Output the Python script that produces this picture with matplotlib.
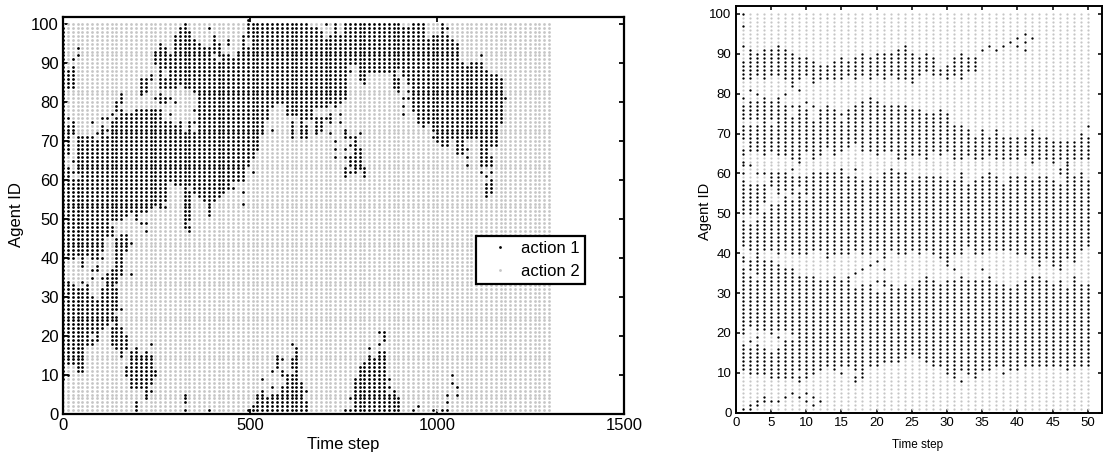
import matplotlib

matplotlib.use("Agg")

import matplotlib.pyplot as plt
import numpy as np

# spans of agent IDs choosing action 1, one list per sampled time step
LEFT_TIMES = [13 * k for k in range(101)]
LEFT_SPANS = [
    [(9, 99)],
    [(84, 88), (76, 76), (67, 74), (40, 63), (13, 34), (10, 10)],
    [(91, 91), (84, 89), (72, 75), (65, 65), (62, 62), (40, 60), (13, 33)],
    [(94, 94), (92, 92), (62, 71), (41, 60), (11, 32)],
    [(38, 71), (34, 34), (11, 32)],
    [(41, 71), (18, 33)],
    [(75, 75), (40, 71), (37, 37), (35, 35), (21, 30), (18, 19)],
    [(72, 72), (40, 70), (37, 38), (20, 29), (19, 19)],
    [(76, 76), (42, 74), (40, 40), (35, 35), (22, 32)],
    [(76, 76), (73, 73), (46, 71), (23, 36)],
    [(77, 77), (74, 75), (50, 73), (46, 48), (24, 37), (18, 22)],
    [(78, 80), (50, 76), (34, 45), (27, 32), (17, 25)],
    [(80, 82), (50, 78), (36, 46), (27, 27), (15, 22)],
    [(51, 77), (42, 46), (17, 20), (10, 12)],
    [(52, 77), (44, 44), (36, 36), (7, 16)],
    [(50, 78), (7, 17), (1, 3)],
    [(82, 86), (52, 78), (49, 49), (7, 15)],
    [(83, 86), (52, 78), (49, 49), (47, 47), (4, 16)],
    [(86, 87), (53, 78), (18, 18), (8, 15), (6, 6)],
    [(90, 93), (81, 81), (54, 78), (10, 11)],
    [(84, 95), (80, 82), (53, 78)],
    [(89, 94), (84, 86), (80, 81), (55, 75), (53, 53)],
    [(84, 92), (81, 81), (77, 77), (60, 75)],
    [(84, 97), (80, 80), (59, 74)],
    [(85, 99), (59, 75)],
    [(84, 100), (59, 72), (48, 58), (3, 5), (1, 1)],
    [(84, 98), (59, 75), (50, 57), (48, 48), (47, 47)],
    [(83, 96), (78, 78), (75, 75), (57, 72)],
    [(56, 95)],
    [(55, 94)],
    [(99, 99), (51, 94), (1, 1)],
    [(93, 97), (55, 91)],
    [(92, 95), (56, 90)],
    [(91, 92), (57, 90)],
    [(95, 96), (58, 92)],
    [(60, 91), (58, 58)],
    [(60, 93)],
    [(60, 97), (57, 57), (54, 54)],
    [(97, 101), (64, 94), (1, 1)],
    [(66, 100), (62, 62), (1, 2)],
    [(68, 100), (1, 5)],
    [(72, 100), (9, 9), (1, 6)],
    [(76, 100), (1, 4)],
    [(79, 100), (73, 73), (11, 11), (7, 7), (1, 5)],
    [(80, 100), (12, 15), (1, 5)],
    [(80, 100), (14, 14), (10, 11), (7, 7), (1, 6)],
    [(77, 100), (1, 10)],
    [(77, 100), (71, 75), (18, 18), (12, 14), (1, 10)],
    [(77, 100), (11, 17), (1, 10)],
    [(76, 100), (71, 75), (1, 8)],
    [(76, 100), (71, 74), (6, 6), (1, 3)],
    [(76, 99)],
    [(79, 99), (72, 76)],
    [(79, 98), (73, 76)],
    [(100, 100), (79, 96), (76, 76)],
    [(80, 97), (75, 77), (72, 72)],
    [(79, 100), (70, 70), (68, 68), (66, 66)],
    [(80, 97), (77, 77), (75, 75)],
    [(81, 100), (71, 73), (68, 68), (66, 66), (61, 63), (1, 1)],
    [(90, 100), (88, 88), (71, 71), (69, 69), (64, 66), (62, 62), (4, 4), (1, 1)],
    [(90, 100), (62, 71), (1, 9)],
    [(86, 100), (72, 72), (64, 68), (63, 63), (1, 12)],
    [(85, 100), (61, 63), (1, 13)],
    [(88, 100), (17, 17), (1, 15)],
    [(88, 100), (1, 14)],
    [(88, 100), (21, 21), (18, 18), (1, 16)],
    [(88, 100), (19, 21), (1, 16)],
    [(88, 100), (9, 9), (7, 7), (1, 5)],
    [(84, 100), (1, 6)],
    [(89, 100), (83, 86), (1, 4)],
    [(87, 99), (81, 81), (79, 79), (77, 77)],
    [(85, 99), (83, 83), (81, 81)],
    [(78, 100), (1, 1)],
    [(75, 100), (2, 2)],
    [(74, 100)],
    [(75, 96)],
    [(73, 97), (71, 71), (1, 1)],
    [(70, 97)],
    [(69, 100), (1, 1)],
    [(99, 99), (69, 97), (5, 5), (3, 3), (1, 1)],
    [(71, 96), (10, 10), (8, 8)],
    [(67, 95), (7, 7), (5, 5)],
    [(67, 90)],
    [(71, 89), (68, 68), (66, 66), (64, 64)],
    [(71, 90)],
    [(71, 90)],
    [(92, 92), (64, 90), (62, 62)],
    [(64, 88), (61, 61), (56, 59)],
    [(69, 87), (64, 66), (62, 62), (57, 60)],
    [(69, 87)],
    [(75, 86)],
    [(81, 81)],
    [], [], [], [], [], [], [], [], [],
]

RIGHT_TIMES = list(range(1, 51))
RIGHT_SPANS = [
    [(100, 100), (97, 97), (92, 92), (84, 88), (79, 79), (74, 77), (69, 72), (65, 66), (62, 63), (60, 60), (50, 58), (42, 48), (38, 39), (20, 36), (11, 17), (1, 1)],
    [(84, 91), (81, 81), (74, 78), (66, 72), (62, 62), (50, 57), (41, 47), (36, 38), (22, 34), (18, 18), (10, 16), (1, 2)],
    [(85, 90), (80, 80), (74, 78), (66, 72), (60, 60), (50, 57), (40, 48), (35, 39), (21, 33), (19, 19), (10, 17), (2, 3)],
    [(84, 91), (74, 79), (65, 73), (60, 60), (53, 57), (41, 50), (21, 38), (10, 16), (3, 4)],
    [(85, 91), (74, 78), (66, 72), (57, 60), (41, 52), (20, 38), (9, 15), (3, 3)],
    [(85, 92), (79, 79), (65, 78), (55, 60), (40, 52), (21, 37), (19, 19), (9, 16), (3, 3)],
    [(84, 91), (80, 80), (65, 77), (56, 60), (41, 54), (21, 36), (9, 18), (4, 4)],
    [(82, 90), (77, 77), (64, 74), (61, 61), (55, 59), (40, 53), (20, 36), (9, 18), (5, 5)],
    [(84, 89), (81, 81), (64, 77), (63, 63), (57, 59), (40, 55), (11, 34), (8, 9), (4, 4)],
    [(85, 89), (78, 78), (66, 76), (55, 59), (40, 53), (10, 34), (9, 9), (5, 5), (3, 3)],
    [(83, 88), (77, 77), (64, 73), (41, 60), (10, 34), (4, 4), (2, 2)],
    [(84, 87), (74, 76), (65, 73), (41, 60), (11, 33), (3, 3)],
    [(84, 87), (67, 77), (39, 60), (12, 33)],
    [(84, 88), (65, 76), (40, 60), (11, 34)],
    [(84, 89), (75, 75), (66, 73), (61, 61), (40, 60), (12, 33), (10, 10)],
    [(85, 88), (67, 76), (40, 59), (12, 34)],
    [(84, 89), (68, 77), (61, 61), (41, 59), (35, 35), (11, 31), (8, 9)],
    [(85, 90), (66, 78), (40, 58), (36, 36), (12, 32), (9, 11)],
    [(84, 89), (66, 79), (40, 59), (37, 37), (12, 32)],
    [(85, 90), (65, 78), (41, 58), (38, 38), (33, 33), (12, 30)],
    [(84, 90), (66, 77), (39, 60), (36, 36), (32, 33), (13, 30)],
    [(85, 90), (66, 77), (41, 61), (13, 32)],
    [(84, 91), (64, 77), (40, 60), (13, 31)],
    [(84, 92), (64, 77), (40, 60), (14, 32)],
    [(83, 90), (65, 76), (41, 58), (15, 31)],
    [(85, 89), (65, 76), (40, 59), (14, 33)],
    [(86, 90), (64, 75), (41, 59), (13, 34)],
    [(85, 89), (66, 75), (40, 59), (12, 33)],
    [(85, 86), (65, 76), (39, 59), (12, 32)],
    [(84, 87), (66, 75), (37, 58), (10, 33)],
    [(85, 89), (64, 72), (40, 58), (36, 36), (9, 33)],
    [(84, 90), (64, 72), (40, 60), (11, 34), (8, 8)],
    [(86, 89), (65, 71), (42, 57), (10, 33)],
    [(86, 89), (64, 69), (40, 58), (9, 33)],
    [(91, 91), (64, 71), (40, 59), (36, 36), (11, 33)],
    [(92, 92), (65, 69), (41, 60), (11, 34)],
    [(91, 91), (64, 71), (41, 59), (12, 32)],
    [(92, 92), (64, 69), (41, 57), (12, 32), (10, 10)],
    [(93, 93), (64, 69), (41, 59), (11, 31)],
    [(94, 94), (92, 92), (64, 69), (40, 59), (11, 32)],
    [(95, 95), (93, 93), (91, 91), (65, 69), (40, 59), (12, 33)],
    [(94, 94), (63, 71), (39, 58), (12, 34)],
    [(64, 69), (37, 59), (12, 34)],
    [(64, 69), (39, 59), (12, 33)],
    [(63, 68), (37, 58), (12, 32)],
    [(64, 68), (60, 61), (36, 57), (12, 33)],
    [(61, 68), (39, 60), (11, 31)],
    [(64, 68), (38, 59), (12, 34)],
    [(64, 70), (41, 60), (12, 32)],
    [(72, 72), (64, 69), (42, 58), (12, 32)],
]

LEFT_XTICKS = [0, 500, 1000, 1500]
RIGHT_XTICKS = list(range(0, 51, 5))
YTICKS = list(range(0, 101, 10))

BLACK = "#000000"
GRAY = "#c6c6c6"
W, H = 1105, 457


def split_actions(times, spans):
    x1, y1, x2, y2 = [], [], [], []
    for t, col in zip(times, spans):
        chosen = set()
        for lo, hi in col:
            chosen.update(range(lo, hi + 1))
        for agent in chosen:
            x1.append(t)
            y1.append(agent)
        for agent in range(1, 101):
            if agent not in chosen:
                x2.append(t)
                y2.append(agent)
    return np.array(x1), np.array(y1), np.array(x2), np.array(y2)


def place_axes(fig, left, top, right, bottom):
    return fig.add_axes([left / W, 1 - bottom / H, (right - left) / W, (bottom - top) / H])


def style_axes(ax, lw, ticklen):
    for spine in ax.spines.values():
        spine.set_linewidth(lw)
    ax.tick_params(direction="in", top=True, right=True, length=ticklen, width=lw * 0.8)


plt.rcParams["font.family"] = ["Liberation Sans", "DejaVu Sans"]
fig = plt.figure(figsize=(W / 100, H / 100), dpi=100)

ax = place_axes(fig, 63, 16.5, 624, 414)
x1, y1, x2, y2 = split_actions(LEFT_TIMES, LEFT_SPANS)
ax.plot(x1, y1, ls="", marker="o", ms=2.0, mew=0, color=BLACK, label="action 1", clip_on=False, zorder=3)
ax.plot(x2, y2, ls="", marker="o", ms=2.0, mew=0, color=GRAY, label="action 2", clip_on=False, zorder=2)
ax.set_xlim(0, 1500)
ax.set_ylim(0, 102)
ax.set_xticks(LEFT_XTICKS)
ax.set_yticks(YTICKS)
style_axes(ax, 1.6, 3.5)
ax.tick_params(labelsize=12, pad=3)
fig.text(343 / W, 1 - 445 / H, "Time step", ha="center", va="center", fontsize=12)
fig.text(17 / W, 1 - 215 / H, "Agent ID", ha="center", va="center", rotation=90, fontsize=12)
leg = ax.legend(
    loc="upper left",
    bbox_to_anchor=((476 - 63) / 561, (414 - 236) / 397.5),
    fancybox=False,
    framealpha=1,
    edgecolor="black",
    fontsize=12,
    borderpad=0.32,
    labelspacing=0.45,
    handlelength=2.2,
    handletextpad=0.2,
    borderaxespad=0,
    numpoints=1,
)
leg.get_frame().set_linewidth(1.6)

ax = place_axes(fig, 735.7, 6, 1102, 412.7)
x1, y1, x2, y2 = split_actions(RIGHT_TIMES, RIGHT_SPANS)
ax.plot(x1, y1, ls="", marker="o", ms=1.7, mew=0, color=BLACK, clip_on=False, zorder=3)
ax.plot(x2, y2, ls="", marker="o", ms=1.6, mew=0, color=GRAY, clip_on=False, zorder=2)
ax.set_xlim(0, 52)
ax.set_ylim(0, 102)
ax.set_xticks(RIGHT_XTICKS)
ax.set_yticks(YTICKS)
style_axes(ax, 1.4, 3)
ax.tick_params(labelsize=9.5, pad=3)
fig.text(918 / W, 1 - 445 / H, "Time step", ha="center", va="center", fontsize=8.5)
fig.text(705 / W, 1 - 211 / H, "Agent ID", ha="center", va="center", rotation=90, fontsize=10.5)

fig.savefig("out.png", dpi=100)
plt.close(fig)
